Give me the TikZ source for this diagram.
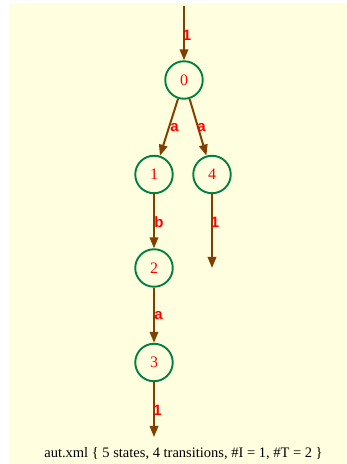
\documentclass[tikz,border=0pt]{standalone}
\usepackage{fontspec}
\setmainfont{Liberation Serif}
\newfontfamily\edgefont{Liberation Sans}
\usetikzlibrary{arrows.meta}

\definecolor{bgyellow}{HTML}{FFFFE0}
\definecolor{stategreen}{HTML}{008040}
\definecolor{edgebrown}{HTML}{804000}

\tikzset{
  state/.style={circle, draw=stategreen, line width=1.9pt, minimum size=37.5pt, inner sep=0pt,
    text=red, font=\fontsize{16}{16}\selectfont},
  trans/.style={draw=edgebrown, line width=2pt, -{Triangle[length=11pt,width=8.5pt]}},
  elab/.style={text=red, inner sep=0pt, font=\edgefont\bfseries\fontsize{15}{15}\selectfont}
}

\begin{document}
\begin{tikzpicture}[x=1pt,y=1pt]
  \useasboundingbox (0,0) rectangle (347,464);
  \fill[bgyellow] (9,0) rectangle (347,461);

  \node[state] (q0) at (184,384) {0};
  \node[state] (q1) at (154,289.5) {1};
  \node[state] (q4) at (212,289.5) {4};
  \node[state] (q2) at (154,196) {2};
  \node[state] (q3) at (154,101.5) {3};

  \coordinate (in0) at (184,458);
  \coordinate (out4) at (212,196);
  \coordinate (out3) at (154,27);

  \draw[trans] (in0) -- (q0);
  \draw[trans] (q0) -- (q1);
  \draw[trans] (q0) -- (q4);
  \draw[trans] (q1) -- (q2);
  \draw[trans] (q2) -- (q3);
  \draw[trans] (q4) -- (out4);
  \draw[trans] (q3) -- (out3);

  \node[elab] (l0) at (187,429) {1};
  \node[elab] (l01) at (174.5,336) {a};
  \node[elab] (l04) at (201.5,336) {a};
  \node[elab] (l12) at (159,242) {b};
  \node[elab] (l4) at (215,242) {1};
  \node[elab] (l23) at (158.5,148) {a};
  \node[elab] (l3) at (157.5,54) {1};

  \node[anchor=base, font=\fontsize{14.5}{14.5}\selectfont] (cap) at (183.5,6)
    {aut.xml \{ 5 states, 4 transitions, \#I = 1, \#T = 2 \}};
\end{tikzpicture}
\end{document}
